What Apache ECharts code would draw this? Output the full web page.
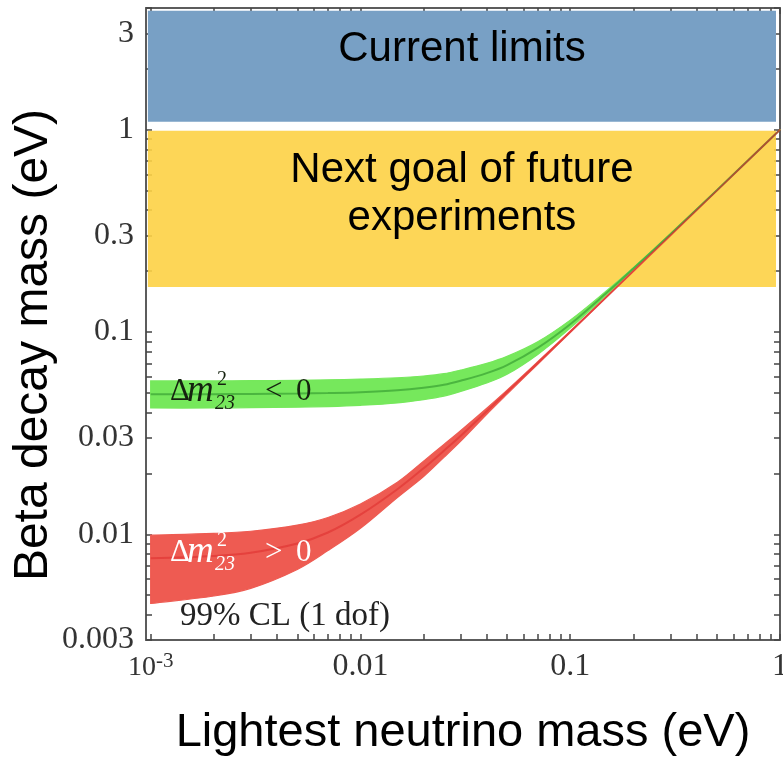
<!DOCTYPE html>
<html>
<head>
<meta charset="utf-8">
<script src="https://cdn.jsdelivr.net/npm/echarts@6.0.0/dist/echarts.min.js"></script>
<style>
  html, body { margin: 0; padding: 0; background: #ffffff; }
  #chart { width: 783px; height: 760px; }
</style>
</head>
<body>
<div id="chart"></div>
<script>
// Lightest neutrino mass samples (eV)
const lightestMass = [0.001, 0.002, 0.003, 0.005, 0.007, 0.01, 0.015, 0.02, 0.025, 0.03, 0.04, 0.05, 0.07, 0.1, 0.15, 0.2, 0.3, 0.5, 1];

// Inverted ordering (Δm²23 < 0): beta decay mass band, 99% CL (eV)
const invertedLower   = [0.0421, 0.0421, 0.0423, 0.0425, 0.0428, 0.0434, 0.0446, 0.0463, 0.0482, 0.0508, 0.0560, 0.0618, 0.0775, 0.1045, 0.1535, 0.2040, 0.3030, 0.5018, 1.0009];
const invertedUpper   = [0.0573, 0.0573, 0.0575, 0.0577, 0.0580, 0.0585, 0.0594, 0.0606, 0.0622, 0.0648, 0.0700, 0.0758, 0.0895, 0.1145, 0.1610, 0.2082, 0.3056, 0.5034, 1.0016];
const invertedCentral = [0.0493, 0.0493, 0.0494, 0.0496, 0.0499, 0.0504, 0.0515, 0.0530, 0.0548, 0.0574, 0.0626, 0.0686, 0.0835, 0.1093, 0.1572, 0.2061, 0.3042, 0.5025, 1.0012];

// Normal ordering (Δm²23 > 0): beta decay mass band, 99% CL (eV)
const normalLower   = [0.00455, 0.00495, 0.0054, 0.0067, 0.0083, 0.0107, 0.0152, 0.0193, 0.0240, 0.0288, 0.0392, 0.0493, 0.0693, 0.0994, 0.1496, 0.1998, 0.2999, 0.4999, 1.0000];
const normalUpper   = [0.0099, 0.0101, 0.01035, 0.0111, 0.0121, 0.0141, 0.0181, 0.0230, 0.0278, 0.0325, 0.0420, 0.0516, 0.0713, 0.1010, 0.1506, 0.2004, 0.3003, 0.5001, 1.0001];
const normalCentral = [0.0076, 0.0078, 0.0081, 0.0090, 0.0102, 0.0125, 0.0167, 0.0212, 0.0259, 0.0306, 0.0406, 0.0505, 0.0703, 0.1002, 0.1501, 0.2001, 0.3001, 0.5000, 1.0000];

// Experimental ranges of the beta decay mass (eV) and the span they cover on the mass axis
const currentLimitsRange = [1.095, 3.88];
const futureGoalRange = [0.167, 0.989];
const rangeMassSpan = [0.00097, 0.957];

// Axis extents and tick labels
const massExtent = [0.00095, 1];
const betaExtent = [0.003, 4];
const xLabelValues = [0.001, 0.01, 0.1, 1];
const xLabelTexts = ['{b|10}{s|-3}', '0.01', '0.1', '1'];
const yLabelValues = [0.003, 0.01, 0.03, 0.1, 0.3, 1, 3];
const yLabelTexts = ['0.003', '0.01', '0.03', '0.1', '0.3', '1', '3'];

// Minor ticks at 1..9 × 10^n
function decadeTicks(fromExp, toExp) {
  const out = [];
  for (let n = fromExp; n <= toExp; n++) {
    for (let k = 1; k <= 9; k++) out.push(Number((k * Math.pow(10, n)).toPrecision(6)));
  }
  return out;
}
const xTickValues = decadeTicks(-3, 0);
const yTickValues = decadeTicks(-3, 0);

const SERIF = "'Liberation Serif', 'Times New Roman', serif";
const SANS = "'Liberation Sans', Arial, sans-serif";
const AXIS_COLOR = '#5c5c5c';
const LABEL_COLOR = '#333';

function lookupLabel(values, texts, v) {
  for (let i = 0; i < values.length; i++) {
    if (Math.abs(Math.log10(v) - Math.log10(values[i])) < 1e-6) return texts[i];
  }
  return '';
}

function makeAxis(kind, position, withLabels) {
  const isX = kind === 'x';
  const axis = {
    type: 'log',
    logBase: 10,
    position: position,
    min: isX ? massExtent[0] : betaExtent[0],
    max: isX ? massExtent[1] : betaExtent[1],
    axisLine: { show: true, onZero: false, lineStyle: { color: AXIS_COLOR, width: 2 } },
    axisTick: {
      show: true, inside: true, length: 6,
      customValues: isX ? xTickValues : yTickValues,
      lineStyle: { color: '#444', width: 1.5 }
    },
    splitLine: { show: false },
    minorTick: { show: false },
    axisLabel: { show: false }
  };
  if (withLabels) {
    axis.axisLabel = {
      show: true,
      customValues: isX ? xLabelValues : yLabelValues,
      formatter: function (v) {
        return isX ? lookupLabel(xLabelValues, xLabelTexts, v) : lookupLabel(yLabelValues, yLabelTexts, v);
      },
      fontFamily: SERIF,
      fontSize: 32,
      color: LABEL_COLOR,
      margin: isX ? 11 : 12,
      rich: {
        b: { fontFamily: SERIF, fontSize: 28, color: LABEL_COLOR },
        s: { fontFamily: SERIF, fontSize: 21, color: LABEL_COLOR, padding: [0, 0, 12, 0] }
      }
    };
  }
  return axis;
}

// Filled band between the lower and upper edges; the corner points are doubled
// so the smoothed outline keeps a straight left edge.
function bandSeries(name, lower, upper, color) {
  const top = lightestMass.map((m, i) => [m, upper[i]]);
  const bottom = lightestMass.map((m, i) => [m, lower[i]]).reverse();
  const outline = [top[0]].concat(top, bottom, [bottom[bottom.length - 1]]);
  return {
    name: name,
    type: 'custom',
    coordinateSystem: 'cartesian2d',
    silent: true,
    z: 2,
    data: [[lightestMass[0], lower[0]]],
    renderItem: function (params, api) {
      return {
        type: 'polygon',
        shape: { points: outline.map(p => api.coord(p)), smooth: 0.35 },
        style: { fill: color, stroke: color, lineWidth: 1.2 }
      };
    }
  };
}

function centralSeries(name, central, color) {
  return {
    name: name,
    type: 'line',
    silent: true,
    z: 3,
    symbol: 'none',
    smooth: 0.35,
    data: lightestMass.map((m, i) => [m, central[i]]),
    lineStyle: { color: color, width: 2 }
  };
}

// Δm²₂₃ label made of separate pieces so the superscript and subscript stack
function orderingLabel(x, y, relation, color) {
  const piece = (dx, dy, text, font) => ({
    type: 'text', x: x + dx, y: y + dy, z: 100, silent: true,
    style: { text: text, font: font, fill: color, verticalAlign: 'middle' }
  });
  return [
    piece(0, 0, 'Δ', '31px ' + SERIF),
    piece(17, -1, 'm', 'italic 37px ' + SERIF),
    piece(47, -12, '2', '20px ' + SERIF),
    piece(45, 12, '23', 'italic 20px ' + SERIF),
    piece(95, 0, relation, '31px ' + SERIF),
    piece(126, 0, '0', '31px ' + SERIF)
  ];
}

const chart = echarts.init(document.getElementById('chart'), null, { renderer: 'canvas' });

chart.setOption({
  animation: false,
  backgroundColor: '#ffffff',
  grid: { left: 146, right: 3, top: 8, bottom: 120, containLabel: false, outerBoundsMode: 'none' },
  xAxis: [makeAxis('x', 'bottom', true), makeAxis('x', 'top', false)],
  yAxis: [makeAxis('y', 'left', true), makeAxis('y', 'right', false)],
  series: [
    bandSeries('Δm²23 < 0', invertedLower, invertedUpper, '#76e85c'),
    centralSeries('Δm²23 < 0 central', invertedCentral, 'rgba(40,140,40,0.55)'),
    bandSeries('Δm²23 > 0', normalLower, normalUpper, '#ee5b52'),
    centralSeries('Δm²23 > 0 central', normalCentral, 'rgba(220,40,40,0.5)'),
    {
      name: 'ranges',
      type: 'line',
      data: [],
      z: 5,
      silent: true,
      markArea: {
        silent: true,
        data: [
          [
            {
              xAxis: rangeMassSpan[0], yAxis: currentLimitsRange[0],
              itemStyle: { color: '#78a0c5', opacity: 1 },
              label: {
                show: true, position: 'insideTop', distance: 15,
                formatter: 'Current limits',
                fontFamily: SANS, fontSize: 42, color: '#000', lineHeight: 48
              }
            },
            { xAxis: rangeMassSpan[1], yAxis: currentLimitsRange[1] }
          ],
          [
            {
              xAxis: rangeMassSpan[0], yAxis: futureGoalRange[0],
              itemStyle: { color: '#fdd145', opacity: 0.9 },
              label: {
                show: true, position: 'insideTop', distance: 16,
                formatter: 'Next goal of future\nexperiments',
                fontFamily: SANS, fontSize: 42, color: '#000', lineHeight: 48
              }
            },
            { xAxis: rangeMassSpan[1], yAxis: futureGoalRange[1] }
          ]
        ]
      }
    }
  ],
  graphic: [
    // axis titles
    {
      type: 'text', x: 34, y: 345, rotation: Math.PI / 2, silent: true, z: 100,
      style: { text: 'Beta decay mass (eV)', font: '48px ' + SANS, fill: '#000', align: 'center', verticalAlign: 'middle' }
    },
    {
      type: 'text', x: 463, y: 733, silent: true, z: 100,
      style: { text: 'Lightest neutrino mass (eV)', font: '47px ' + SANS, fill: '#000', align: 'center', verticalAlign: 'middle' }
    }
  ]
    .concat(orderingLabel(170, 392, '<', '#15220f'))
    .concat(orderingLabel(170, 553, '>', '#ffffff'))
    .concat([{
      type: 'text', x: 180, y: 616, silent: true, z: 100,
      style: { text: '99% CL (1 dof)', font: '33px ' + SERIF, fill: '#222', verticalAlign: 'middle' }
    }])
});
</script>
</body>
</html>
